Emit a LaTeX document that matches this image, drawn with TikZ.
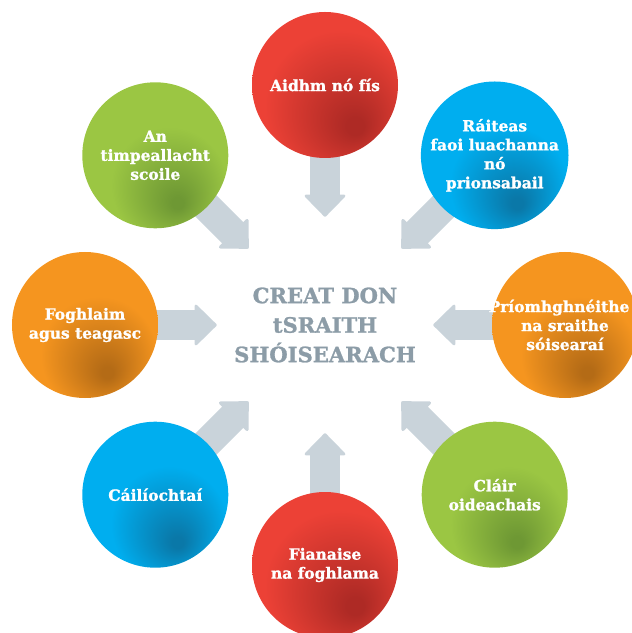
\documentclass[tikz,border=0pt]{standalone}
\usepackage{fontspec}
\setmainfont{DejaVu Serif}[BoldFeatures={FakeBold=1.2}]
\usepackage{tikz}
\usetikzlibrary{arrows.meta, backgrounds}

\definecolor{redmain}{HTML}{EC4136}
\definecolor{reddark}{HTML}{AE2A25}
\definecolor{bluemain}{HTML}{00AEEF}
\definecolor{bluedark}{HTML}{0A78A8}
\definecolor{greenmain}{HTML}{9BC643}
\definecolor{greendark}{HTML}{6E9834}
\definecolor{orangemain}{HTML}{F5951F}
\definecolor{orangedark}{HTML}{B46B16}
\definecolor{arrowgray}{HTML}{C9D3DA}
\definecolor{hubgray}{HTML}{8C9CA7}

\pgfdeclareradialshading{redball}{\pgfpoint{11bp}{-15bp}}{color(0bp)=(reddark);
  color(3bp)=(reddark); color(26bp)=(redmain); color(50bp)=(redmain)}
\pgfdeclareradialshading{blueball}{\pgfpoint{8bp}{-17bp}}{color(0bp)=(bluedark);
  color(2bp)=(bluedark); color(20bp)=(bluemain); color(50bp)=(bluemain)}
\pgfdeclareradialshading{greenball}{\pgfpoint{8bp}{-17bp}}{color(0bp)=(greendark);
  color(2bp)=(greendark); color(20bp)=(greenmain); color(50bp)=(greenmain)}
\pgfdeclareradialshading{orangeball}{\pgfpoint{8bp}{-17bp}}{color(0bp)=(orangedark);
  color(2bp)=(orangedark); color(20bp)=(orangemain); color(50bp)=(orangemain)}

\begin{document}
\begin{tikzpicture}[ ball/.style={circle, minimum size=3.65cm, inner sep=0pt,
      text=white, align=center, font=\bfseries\fontsize{11pt}{13.5pt}\selectfont},
    hub/.style={circle, minimum size=5.4cm, inner sep=0pt, text=hubgray,
      align=center, font=\bfseries\fontsize{15pt}{21pt}\selectfont},
    flow/.style={draw=arrowgray, line width=0.75cm,
      -{Triangle[width=1.1cm, length=0.57cm, line width=2pt, round]}}, ]

    \useasboundingbox (-8.125,-7.7) rectangle (7.675,8.125);

    % Centre
    \node[hub] (hub) at (0,0) {CREAT DON\\tSRAITH\\SHÓISEARACH};

    % Circles round the centre
    \node[ball, shading=redball] (aim) at (90:6) {Aidhm nó fís};
    \node[ball, shading=blueball] (values) at (45:6)
    {Ráiteas\\faoi luachanna\\nó\\prionsabail};
    \node[ball, shading=orangeball] (features) at (0:6)
    {\hspace*{-0.3cm}Príomhghnéithe\\na sraithe\\sóisearaí};
    \node[ball, shading=greenball] (programmes) at (-45:6) {Cláir\\oideachais};
    \node[ball, shading=redball] (evidence) at (-90:6) {Fianaise\\na foghlama};
    \node[ball, shading=blueball] (quals) at (-135:6) {Cáilíochtaí};
    \node[ball, shading=orangeball] (learning) at (180:6) {Foghlaim\\agus teagasc};
    \node[ball, shading=greenball] (school) at (135:6)
    {An\\timpeallacht\\scoile};

    % Arrows in to the centre
    \begin{scope}[on background layer]
      \foreach \n in {aim, values, features, programmes, evidence, quals,
        learning, school} \draw[flow] (\n.center) -- (hub);
    \end{scope}

\end{tikzpicture}
\end{document}
